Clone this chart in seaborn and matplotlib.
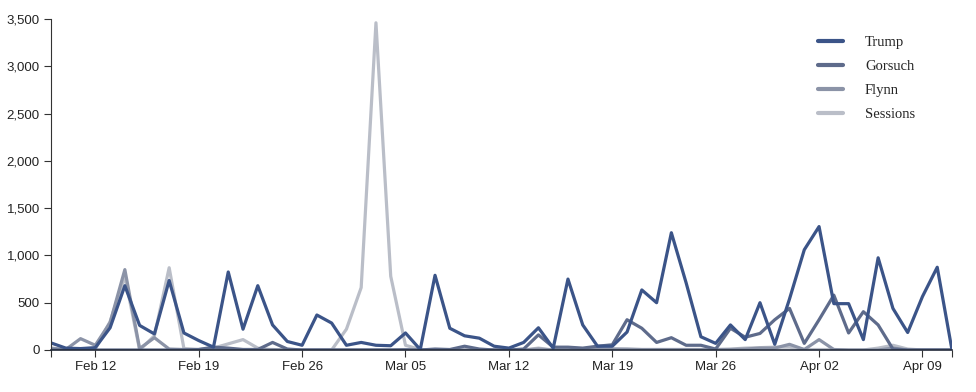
import numpy as np
import pandas as pd
import matplotlib
matplotlib.use("Agg")
import matplotlib.pyplot as plt
from matplotlib.lines import Line2D
import seaborn as sns

dates = pd.date_range("2017-02-09", "2017-04-11", freq="D")

trump = [75, 20, 15, 25, 235, 680, 260, 170, 735, 180,
         100, 30, 825, 220, 680, 265, 90, 50, 370, 285,
         50, 80, 50, 45, 180, 5, 790, 230, 150, 125,
         40, 20, 80, 235, 20, 750, 265, 40, 40, 190,
         635, 500, 1240, 710, 140, 70, 265, 110, 500, 60,
         540, 1060, 1305, 490, 490, 110, 975, 440, 185, 565,
         875, 0]
gorsuch = [0, 0, 0, 0, 0, 0, 0, 0, 0, 0,
           5, 30, 20, 5, 5, 80, 10, 0, 0, 0,
           0, 0, 0, 0, 0, 0, 10, 5, 40, 10,
           0, 0, 10, 160, 30, 30, 20, 40, 55, 320,
           230, 80, 130, 50, 50, 10, 230, 135, 175, 320,
           440, 70, 320, 580, 180, 405, 265, 10, 0, 0,
           0, 0]
flynn = [20, 5, 120, 50, 290, 850, 15, 130, 10, 5,
         5, 10, 5, 5, 5, 5, 0, 0, 0, 0,
         0, 0, 0, 0, 5, 0, 0, 0, 0, 0,
         0, 0, 0, 10, 0, 0, 0, 10, 10, 10,
         5, 5, 5, 5, 5, 5, 5, 10, 20, 20,
         60, 5, 110, 5, 0, 0, 0, 20, 0, 0,
         0, 0]
sessions = [0, 0, 0, 10, 300, 780, 0, 150, 870, 15,
            5, 20, 65, 110, 20, 0, 0, 0, 0, 0,
            220, 660, 3460, 780, 50, 5, 0, 0, 0, 0,
            0, 0, 0, 20, 0, 0, 0, 5, 10, 5,
            5, 5, 5, 5, 5, 5, 10, 20, 25, 30,
            30, 5, 5, 5, 0, 0, 20, 50, 10, 0,
            0, 0]

names = ["Trump", "Gorsuch", "Flynn", "Sessions"]
colors = ["#3b5488", "#5e6b8b", "#8b93a7", "#babec8"]

df = pd.DataFrame({
    "date": np.tile(dates, 4),
    "value": trump + gorsuch + flynn + sessions,
    "series": np.repeat(names, len(dates)),
})

sns.set_style("white")
plt.rcParams["font.family"] = ["Liberation Sans", "DejaVu Sans"]

fig = plt.figure(figsize=(9.76, 3.92), dpi=100)
ax = fig.add_axes([51/976, 42/392, (952-51)/976, (350-19)/392])

order = ["Sessions", "Flynn", "Gorsuch", "Trump"]
pal = dict(zip(names, colors))
for s in order:
    sns.lineplot(data=df[df.series == s], x="date", y="value", color=pal[s],
                 linewidth=2.3, ax=ax, legend=False)

ax.set_xlim(dates[0], dates[-1])
ax.set_ylim(0, 3500)
ax.set_yticks(np.arange(0, 3501, 500))
ax.yaxis.set_major_formatter(matplotlib.ticker.FuncFormatter(lambda v, p: f"{int(v):,}"))
ticks = pd.to_datetime(["2017-02-12", "2017-02-19", "2017-02-26", "2017-03-05",
                        "2017-03-12", "2017-03-19", "2017-03-26", "2017-04-02", "2017-04-09"])
ax.set_xticks(ticks)
ax.set_xticklabels([t.strftime("%b %d") for t in ticks])
ax.set_xticks([dates[0], dates[-1]], minor=True)
ax.tick_params(axis="both", which="both", direction="out", length=5, width=0.8,
               color="#333333", labelsize=9.5, labelcolor="#222222", pad=3,
               bottom=True, left=True)
ax.tick_params(axis="x", which="minor", length=5, bottom=True)
ax.set_xlabel("")
ax.set_ylabel("")
for sp in ["top", "right"]:
    ax.spines[sp].set_visible(False)
ax.spines["left"].set_color("#333333")
ax.spines["bottom"].set_color("#222a3a")
ax.spines["left"].set_linewidth(0.8)
ax.spines["bottom"].set_linewidth(1.2)

handles = [Line2D([0], [0], color=c, lw=3) for c in colors]
leg = ax.legend(handles, names, loc="upper left", bbox_to_anchor=(0.837, 0.99),
                frameon=False, handlelength=1.7, handletextpad=1.5, labelspacing=0.75,
                prop={"family": "Liberation Serif", "size": 10.5})

fig.savefig("out.png", dpi=100)
